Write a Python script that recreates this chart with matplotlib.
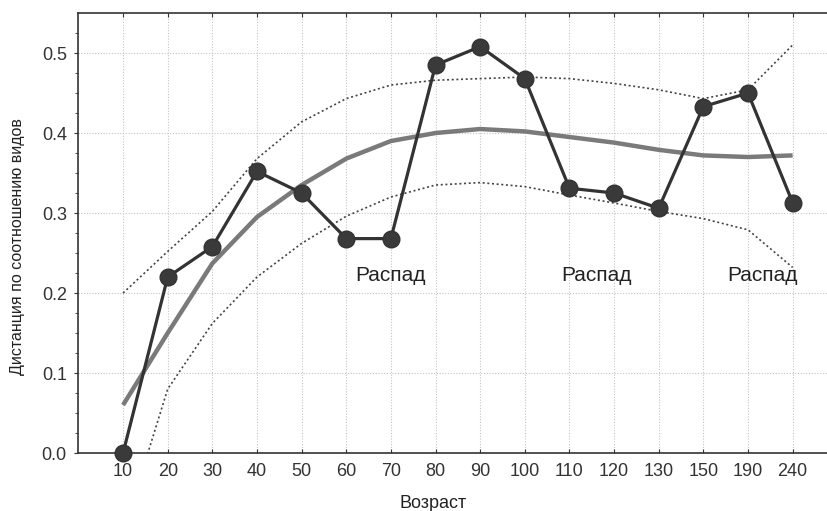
import numpy as np
import matplotlib.pyplot as plt

plt.rcParams["font.family"] = ["Liberation Sans", "DejaVu Sans"]

# age classes (equally spaced categories)
ages = ['10', '20', '30', '40', '50', '60', '70', '80', '90', '100',
        '110', '120', '130', '150', '190', '240']
# observed distance
distance = [0.0, 0.220, 0.258, 0.352, 0.325, 0.268, 0.268, 0.485, 0.508,
            0.468, 0.331, 0.325, 0.306, 0.433, 0.450, 0.313]
# smoothed trend and its bounds, read at each age class
trend = [0.060, 0.150, 0.237, 0.295, 0.335, 0.368, 0.390, 0.400, 0.405,
         0.402, 0.395, 0.388, 0.379, 0.372, 0.370, 0.372]
upper = [0.200, 0.252, 0.302, 0.368, 0.414, 0.443, 0.460, 0.466, 0.468,
         0.470, 0.468, 0.462, 0.454, 0.443, 0.454, 0.510]
lower = [-0.100, 0.080, 0.162, 0.220, 0.262, 0.296, 0.320, 0.335, 0.338,
         0.333, 0.3225, 0.3125, 0.302, 0.293, 0.279, 0.232]

labels = ['Распад', 'Распад', 'Распад']
label_pos = [6.0, 10.6, 14.32]

x = np.arange(len(ages))

fig = plt.figure(figsize=(8.27, 5.11), dpi=100)
ax = fig.add_axes([0.0943, 0.1135, 0.9057, 0.861])

ax.plot(x, upper, ls=(0, (1.2, 1.6)), color='#444444', lw=1.2, zorder=2)
ax.plot(x, lower, ls=(0, (1.2, 1.6)), color='#444444', lw=1.2, zorder=2)
ax.plot(x, trend, color='#7a7a7a', lw=3.2, solid_capstyle='butt', zorder=3)
ax.plot(x, distance, color='#333333', lw=2.3, marker='o', ms=12,
        mfc='#3a3a3a', mec='#333333', zorder=4, clip_on=False)

for txt, p in zip(labels, label_pos):
    ax.text(p, 0.2225, txt, ha='center', va='center', fontsize=15,
            color='#222222')

ax.set_xlim(-1.01, 15.77)
ax.set_ylim(0, 0.55)
ax.set_xticks(x)
ax.set_xticklabels(ages)
ax.set_yticks([0.0, 0.1, 0.2, 0.3, 0.4, 0.5])
ax.set_yticklabels(['0.0', '0.1', '0.2', '0.3', '0.4', '0.5'])
ax.set_yticks(np.arange(0, 0.55, 0.025), minor=True)

ax.tick_params(axis='both', which='major', length=3,
               labelsize=13, colors='#333333')
ax.tick_params(axis='x', direction='in', top=True, pad=7)
ax.tick_params(axis='y', which='both', direction='out', pad=5)
ax.tick_params(axis='y', which='minor', length=2, color='#333333')

ax.grid(True, which='major', ls=(0, (1, 1.5)), color='#c4c4c4', lw=0.8)
ax.set_axisbelow(True)

for s in ['left', 'bottom', 'top']:
    ax.spines[s].set_color('#333333')
    ax.spines[s].set_linewidth(1.2)
ax.spines['right'].set_visible(False)

ax.set_xlabel('Возраст', fontsize=13, color='#222222')
ax.xaxis.set_label_coords(0.474, -0.095)
ax.set_ylabel('Дистанция по соотношению видов', fontsize=11.5,
              color='#222222')
ax.yaxis.set_label_coords(-0.071, 0.47)

fig.savefig('out.png', dpi=100)
